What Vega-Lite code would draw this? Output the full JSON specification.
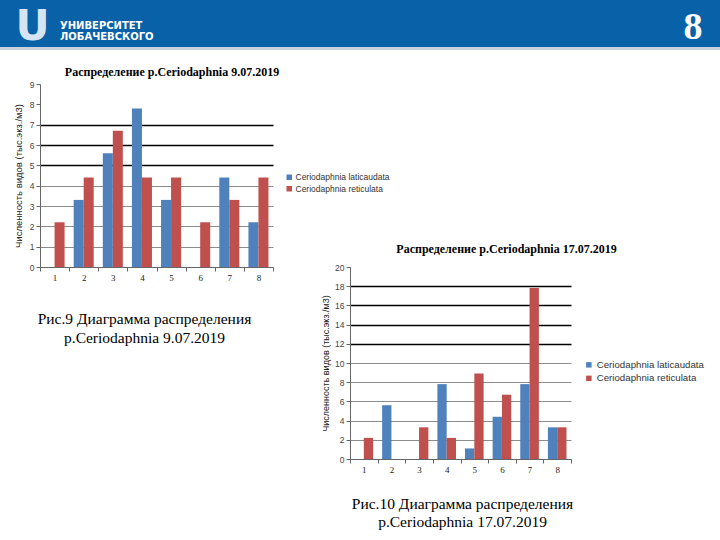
{
  "$schema": "https://vega.github.io/schema/vega-lite/v6.json",
  "padding": 0,
  "background": "white",
  "columns": 4,
  "spacing": 0,
  "bounds": "flush",
  "resolve": {"scale": {"color": "independent", "xOffset": "independent"}, "legend": {"color": "independent"}},
  "config": {"view": {"stroke": null}, "font": "Liberation Sans"},
  "datasets": {
    "d1": [
      {"station": 1, "species": "Ceriodaphnia laticaudata", "count": 0},
      {"station": 1, "species": "Ceriodaphnia reticulata", "count": 2.2},
      {"station": 2, "species": "Ceriodaphnia laticaudata", "count": 3.3},
      {"station": 2, "species": "Ceriodaphnia reticulata", "count": 4.4},
      {"station": 3, "species": "Ceriodaphnia laticaudata", "count": 5.6},
      {"station": 3, "species": "Ceriodaphnia reticulata", "count": 6.7},
      {"station": 4, "species": "Ceriodaphnia laticaudata", "count": 7.8},
      {"station": 4, "species": "Ceriodaphnia reticulata", "count": 4.4},
      {"station": 5, "species": "Ceriodaphnia laticaudata", "count": 3.3},
      {"station": 5, "species": "Ceriodaphnia reticulata", "count": 4.4},
      {"station": 6, "species": "Ceriodaphnia laticaudata", "count": 0},
      {"station": 6, "species": "Ceriodaphnia reticulata", "count": 2.2},
      {"station": 7, "species": "Ceriodaphnia laticaudata", "count": 4.4},
      {"station": 7, "species": "Ceriodaphnia reticulata", "count": 3.3},
      {"station": 8, "species": "Ceriodaphnia laticaudata", "count": 2.2},
      {"station": 8, "species": "Ceriodaphnia reticulata", "count": 4.4}
    ],
    "d2": [
      {"station": 1, "species": "Ceriodaphnia laticaudata", "count": 0},
      {"station": 1, "species": "Ceriodaphnia reticulata", "count": 2.2},
      {"station": 2, "species": "Ceriodaphnia laticaudata", "count": 5.6},
      {"station": 2, "species": "Ceriodaphnia reticulata", "count": 0},
      {"station": 3, "species": "Ceriodaphnia laticaudata", "count": 0},
      {"station": 3, "species": "Ceriodaphnia reticulata", "count": 3.3},
      {"station": 4, "species": "Ceriodaphnia laticaudata", "count": 7.8},
      {"station": 4, "species": "Ceriodaphnia reticulata", "count": 2.2},
      {"station": 5, "species": "Ceriodaphnia laticaudata", "count": 1.1},
      {"station": 5, "species": "Ceriodaphnia reticulata", "count": 8.9},
      {"station": 6, "species": "Ceriodaphnia laticaudata", "count": 4.4},
      {"station": 6, "species": "Ceriodaphnia reticulata", "count": 6.7},
      {"station": 7, "species": "Ceriodaphnia laticaudata", "count": 7.8},
      {"station": 7, "species": "Ceriodaphnia reticulata", "count": 17.8},
      {"station": 8, "species": "Ceriodaphnia laticaudata", "count": 3.3},
      {"station": 8, "species": "Ceriodaphnia reticulata", "count": 3.3}
    ],
    "empty": [],
    "one": [{}]
  },
  "concat": [
    {"width": 40, "height": 47, "view": {"fill": "#0962a7", "stroke": null}, "data": {"name": "empty"}, "mark": "point", "encoding": {}},
    {"width": 233, "height": 47, "view": {"fill": "#0962a7", "stroke": null}, "data": {"name": "one"},
      "layer": [
        {"mark": {"type": "text", "text": "U", "font": "DejaVu Sans", "fontWeight": "bold", "fontSize": 42, "color": "#d6e5f4", "align": "center", "baseline": "middle", "dx": -124, "dy": 3}, "encoding": {}},
        {"mark": {"type": "text", "text": ["УНИВЕРСИТЕТ", "ЛОБАЧЕВСКОГО"], "font": "DejaVu Sans", "fontWeight": "bold", "fontSize": 10, "lineHeight": 11, "color": "white", "align": "left", "baseline": "middle", "dx": -96.5, "dy": 2}, "encoding": {}}
      ]
    },
    {"width": 77, "height": 47, "view": {"fill": "#0962a7", "stroke": null}, "data": {"name": "empty"}, "mark": "point", "encoding": {}},
    {"width": 370, "height": 47, "view": {"fill": "#0962a7", "stroke": null}, "data": {"name": "one"},
      "mark": {"type": "text", "text": "8", "font": "Liberation Serif", "fontWeight": "bold", "fontSize": 38, "color": "white", "align": "center", "baseline": "middle", "dx": 158, "dy": 4.5}, "encoding": {}},

    {"width": 40, "height": 3, "view": {"fill": "#c9d1da", "stroke": null}, "data": {"name": "empty"}, "mark": "point", "encoding": {}},
    {"width": 233, "height": 3, "view": {"fill": "#c9d1da", "stroke": null}, "data": {"name": "empty"}, "mark": "point", "encoding": {}},
    {"width": 77, "height": 3, "view": {"fill": "#c9d1da", "stroke": null}, "data": {"name": "empty"}, "mark": "point", "encoding": {}},
    {"width": 370, "height": 3, "view": {"fill": "#c9d1da", "stroke": null}, "data": {"name": "empty"}, "mark": "point", "encoding": {}},

    {"width": 1, "height": 34, "data": {"name": "empty"}, "mark": "point", "encoding": {}},
    {"width": 1, "height": 34, "data": {"name": "empty"}, "mark": "point", "encoding": {}},
    {"width": 1, "height": 34, "data": {"name": "empty"}, "mark": "point", "encoding": {}},
    {"width": 1, "height": 34, "data": {"name": "empty"}, "mark": "point", "encoding": {}},

    {"width": 1, "height": 1, "data": {"name": "empty"}, "mark": "point", "encoding": {}},
    {
      "width": 233, "height": 183,
      "data": {"name": "d1"},
      "title": {"text": "Распределение р.Ceriodaphnia 9.07.2019", "font": "Liberation Serif", "fontSize": 12, "fontWeight": "bold", "color": "black", "frame": "group", "anchor": "middle", "dx": 15.5, "baseline": "alphabetic", "offset": -8},
      "mark": {"type": "bar"},
      "encoding": {
        "x": {"field": "station", "type": "ordinal", "scale": {"paddingInner": 0, "paddingOuter": 0},
          "axis": {"title": ["Рис.9 Диаграмма распределения", "р.Ceriodaphnia 9.07.2019"], "titleFont": "Liberation Serif", "titleFontSize": 15.5, "titleFontWeight": "normal", "titleColor": "black", "titleX": 104, "titleY": 56, "titleBaseline": "alphabetic", "titleAlign": "center", "titleLineHeight": 19, "labelAngle": 0, "labelFont": "Liberation Serif", "labelFontSize": 9, "labelColor": "#222", "tickBand": "extent", "tickSize": 4, "tickColor": "#666", "domainColor": "#666", "labelPadding": 2, "grid": false}},
        "xOffset": {"field": "species", "scale": {"paddingOuter": 0.455, "paddingInner": 0}},
        "y": {"field": "count", "type": "quantitative", "scale": {"domain": [0, 9], "nice": false},
          "axis": {"title": "Численность видов (тыс.экз./м3)", "titleFont": "Liberation Sans", "titleFontSize": 9.5, "titleFontWeight": "normal", "titleColor": "#222", "titlePadding": 6, "values": [0, 1, 2, 3, 4, 5, 6, 7, 8, 9], "labelFont": "Liberation Sans", "labelFontSize": 8.5, "labelColor": "#444", "tickSize": 4, "labelPadding": 2, "domainColor": "#666", "tickColor": "#666",
            "gridColor": {"condition": {"test": "datum.value >= 5", "value": "black"}, "value": "#8c8c8c"},
            "gridOpacity": {"condition": {"test": "datum.value >= 8", "value": 0}, "value": 1},
            "gridWidth": {"condition": {"test": "datum.value >= 5", "value": 1.6}, "value": 1}}},
        "color": {"field": "species", "type": "nominal", "scale": {"domain": ["Ceriodaphnia laticaudata", "Ceriodaphnia reticulata"], "range": ["#4f81bd", "#c0504d"]},
          "legend": {"orient": "none", "legendX": 245, "legendY": 89, "title": null, "symbolType": "square", "symbolSize": 30, "symbolStrokeWidth": 0, "labelFont": "Liberation Sans", "labelFontSize": 8.5, "labelColor": "#333", "rowPadding": 2.5, "labelOffset": 2, "padding": 0}}
      }
    },
    {"width": 1, "height": 1, "data": {"name": "empty"}, "mark": "point", "encoding": {}},
    {"width": 1, "height": 1, "data": {"name": "empty"}, "mark": "point", "encoding": {}},

    {"width": 1, "height": 1, "data": {"name": "empty"}, "mark": "point", "encoding": {}},
    {"width": 1, "height": 1, "data": {"name": "empty"}, "mark": "point", "encoding": {}},
    {"width": 1, "height": 1, "data": {"name": "empty"}, "mark": "point", "encoding": {}},
    {
      "width": 221, "height": 192,
      "data": {"name": "d2"},
      "title": {"text": "Распределение р.Ceriodaphnia 17.07.2019", "font": "Liberation Serif", "fontSize": 12, "fontWeight": "bold", "color": "black", "frame": "group", "anchor": "middle", "dx": 46, "baseline": "alphabetic", "offset": -2},
      "mark": {"type": "bar"},
      "encoding": {
        "x": {"field": "station", "type": "ordinal", "scale": {"paddingInner": 0, "paddingOuter": 0},
          "axis": {"title": ["Рис.10 Диаграмма распределения", "р.Ceriodaphnia  17.07.2019"], "titleFont": "Liberation Serif", "titleFontSize": 15.5, "titleFontWeight": "normal", "titleColor": "black", "titleX": 112, "titleY": 49, "titleBaseline": "alphabetic", "titleAlign": "center", "titleLineHeight": 18, "labelAngle": 0, "labelFont": "Liberation Serif", "labelFontSize": 9, "labelColor": "#222", "tickBand": "extent", "tickSize": 4, "tickColor": "#666", "domainColor": "#666", "labelPadding": 2, "grid": false}},
        "xOffset": {"field": "species", "scale": {"paddingOuter": 0.485, "paddingInner": 0}},
        "y": {"field": "count", "type": "quantitative", "scale": {"domain": [0, 20], "nice": false},
          "axis": {"title": "Численность видов (тыс.экз./м3)", "titleFont": "Liberation Sans", "titleFontSize": 9, "titleFontWeight": "normal", "titleColor": "#222", "titlePadding": 4, "values": [0, 2, 4, 6, 8, 10, 12, 14, 16, 18, 20], "labelFont": "Liberation Sans", "labelFontSize": 8.5, "labelColor": "#444", "tickSize": 4, "labelPadding": 2, "domainColor": "#666", "tickColor": "#666",
            "gridColor": {"condition": {"test": "datum.value >= 12", "value": "black"}, "value": "#8c8c8c"},
            "gridOpacity": {"condition": {"test": "datum.value >= 20", "value": 0}, "value": 1},
            "gridWidth": {"condition": {"test": "datum.value >= 12", "value": 1.6}, "value": 1}}},
        "color": {"field": "species", "type": "nominal", "scale": {"domain": ["Ceriodaphnia laticaudata", "Ceriodaphnia reticulata"], "range": ["#4f81bd", "#c0504d"]},
          "legend": {"orient": "none", "legendX": 234, "legendY": 93, "title": null, "symbolType": "square", "symbolSize": 30, "symbolStrokeWidth": 0, "labelFont": "Liberation Sans", "labelFontSize": 9.7, "labelColor": "#333", "rowPadding": 2.5, "labelOffset": 3, "padding": 0}}
      }
    }
  ]
}
